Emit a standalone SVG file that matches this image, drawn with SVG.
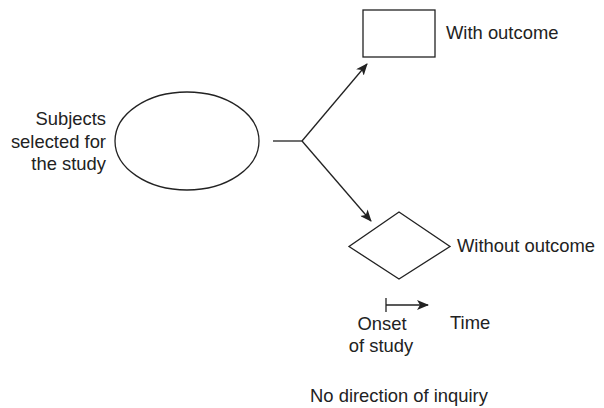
<svg xmlns="http://www.w3.org/2000/svg" width="604" height="408" viewBox="0 0 604 408">
<style>
.shape{fill:#fff;stroke:#222;stroke-width:1.3}
.line{fill:none;stroke:#222;stroke-width:1.3}
text{font-family:"Liberation Sans",Arial,sans-serif;font-size:18.4px;fill:#222}
</style>
<defs>
<marker id="arr" markerWidth="12" markerHeight="10" refX="11" refY="5" orient="auto" markerUnits="userSpaceOnUse">
<path d="M0,0 L12,5 L0,10 L3,5 Z" fill="#222"/>
</marker>
</defs>
<rect width="604" height="408" fill="#fff"/>
<g id="subjects">
<ellipse class="shape" cx="187" cy="141" rx="72" ry="49"/>
<text text-anchor="end"><tspan x="106" y="125">Subjects</tspan><tspan x="106" y="148">selected for</tspan><tspan x="106" y="170">the study</tspan></text>
</g>
<g id="with-outcome">
<rect class="shape" x="363" y="10" width="72" height="47"/>
<text x="446" y="39">With outcome</text>
</g>
<g id="without-outcome">
<polygon class="shape" points="399,212 450,246.5 399,279 349,246.5"/>
<text x="457" y="252">Without outcome</text>
</g>
<g id="connectors">
<path class="line" d="M273,141 L302,141"/>
<path class="line" d="M302,141 L367,64" marker-end="url(#arr)"/>
<path class="line" d="M302,141 L371,221" marker-end="url(#arr)"/>
</g>
<g id="timeline">
<path class="line" d="M386,298 L386,312"/>
<path class="line" d="M386,305 L428,305" marker-end="url(#arr)"/>
<text text-anchor="middle"><tspan x="382" y="330">Onset</tspan><tspan x="381" y="352">of study</tspan></text>
<text x="450" y="329">Time</text>
</g>
<text x="399" y="402" text-anchor="middle">No direction of inquiry</text>
</svg>
